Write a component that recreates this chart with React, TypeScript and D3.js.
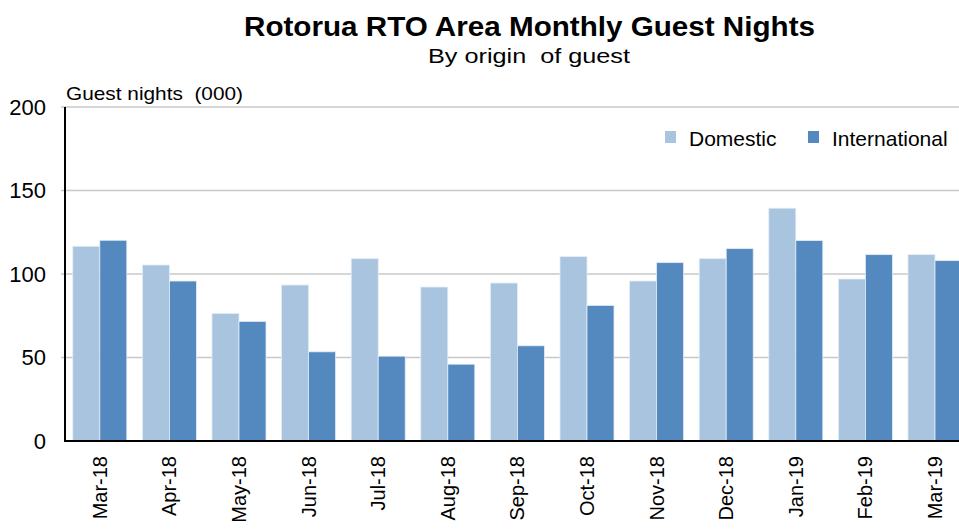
import React from "react";
import * as d3 from "d3";

const months = [
  "Mar-18", "Apr-18", "May-18", "Jun-18", "Jul-18", "Aug-18", "Sep-18",
  "Oct-18", "Nov-18", "Dec-18", "Jan-19", "Feb-19", "Mar-19",
];
const domestic = [116.6, 105.4, 76.4, 93.4, 109.2, 92.2, 94.6, 110.4, 95.8, 109.2, 139.4, 97, 111.6];
const international = [120.2, 95.8, 71.6, 53.4, 50.8, 46, 57, 81.2, 106.8, 115.2, 120, 111.6, 108];
const series = ["Domestic", "International"];
const colors = ["#A9C4DE", "#5489C0"];
const yTicks = [0, 50, 100, 150, 200];

const font = "'Liberation Sans', Arial, sans-serif";

const App = () => {
  const width = 959;
  const height = 529;
  const margin = { top: 107, left: 65, bottom: 441 };

  // band layout runs a little past the right edge, as in the original image
  const x = d3.scaleBand().domain(months).range([margin.left, margin.left + 13 * 69.6]).paddingInner(0.224).paddingOuter(0.112);
  const inner = d3.scaleBand().domain(series).range([0, x.bandwidth()]);
  const y = d3.scaleLinear().domain([0, 200]).range([margin.bottom, margin.top]);

  const rows = months.map((m, i) => ({ m, vals: [domestic[i], international[i]] }));

  return (
    <svg width={width} height={height} style={{ position: "absolute", left: 0, top: 0, fontFamily: font }}>
      <rect width={width} height={height} fill="#fff" />
      <text x={244} y={36} fontSize={27} fontWeight="bold" fill="#000" textLength={571} lengthAdjust="spacingAndGlyphs">
        Rotorua RTO Area Monthly Guest Nights
      </text>
      <text x={428} y={63} fontSize={21} fill="#000" textLength={202} lengthAdjust="spacingAndGlyphs" style={{ whiteSpace: "pre" }}>
        {"By origin  of guest"}
      </text>
      <text x={66} y={100} fontSize={19} fill="#000" textLength={177} lengthAdjust="spacingAndGlyphs" style={{ whiteSpace: "pre" }}>
        {"Guest nights  (000)"}
      </text>

      {yTicks.map((t) => (
        <g key={t}>
          {t > 0 && (
            <line x1={margin.left - 4} x2={width} y1={y(t)} y2={y(t)} stroke="#C8C8C8" strokeWidth={1.3} />
          )}
          <text x={46} y={y(t)} dy="0.36em" textAnchor="end" fontSize={22} fill="#000">
            {t}
          </text>
        </g>
      ))}

      {rows.map((r) => (
        <g key={r.m} transform={`translate(${x(r.m)},0)`}>
          {r.vals.map((v, j) => (
            <rect
              key={j}
              x={inner(series[j])}
              y={y(v)}
              width={inner.bandwidth()}
              height={y(0) - y(v)}
              fill={colors[j]}
              stroke="#E4ECF5"
              strokeWidth={0.8}
            />
          ))}
        </g>
      ))}

      <line x1={margin.left} x2={margin.left} y1={margin.top} y2={margin.bottom + 1} stroke="#000" strokeWidth={2} />
      <line x1={margin.left} x2={width} y1={margin.bottom} y2={margin.bottom} stroke="#000" strokeWidth={2} />

      {months.map((m) => {
        const cx = (x(m) as number) + x.bandwidth() / 2;
        return (
          <text
            key={m}
            transform={`translate(${cx + 7},456) rotate(-90)`}
            textAnchor="end"
            fontSize={20}
            fill="#000"
          >
            {m}
          </text>
        );
      })}

      {series.map((s, i) => {
        const lx = i === 0 ? 665 : 808;
        return (
          <g key={s}>
            <rect x={lx} y={131} width={11} height={12} fill={colors[i]} />
            <text x={lx + 24} y={146} fontSize={21} fill="#000">{s}</text>
          </g>
        );
      })}
    </svg>
  );
};

export default App;
